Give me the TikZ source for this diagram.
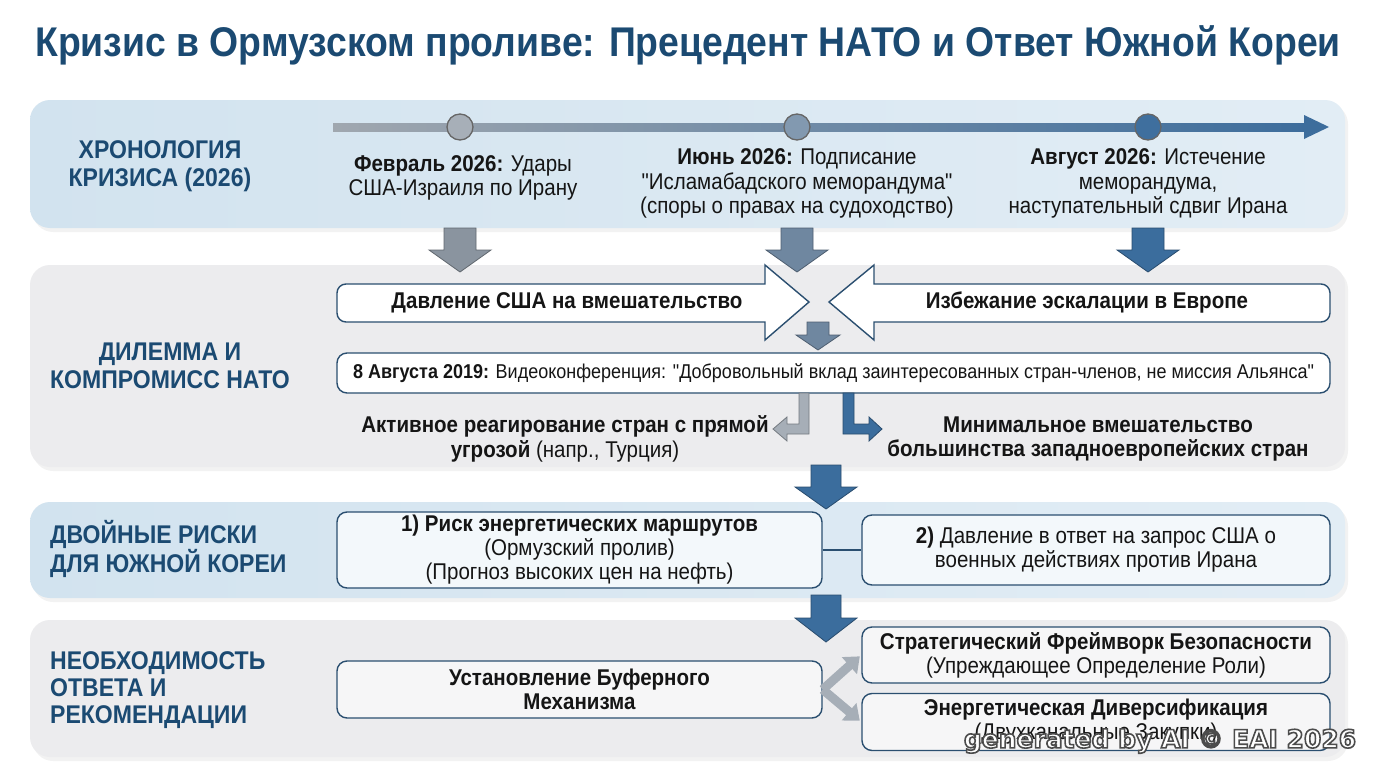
\documentclass[tikz,border=0pt]{standalone}
\usepackage{fontspec}
\setmainfont{Liberation Sans}[FakeStretch=0.9, Ligatures=TeXOff]
\newfontfamily\wmfont{DejaVu Sans}
\usetikzlibrary{arrows.meta}
\definecolor{titleblue}{HTML}{1B4A72}
\definecolor{bandblueL}{HTML}{D2E3EF}
\definecolor{bandblueR}{HTML}{E2EDF5}
\definecolor{bandgray}{HTML}{ECECEE}
\definecolor{boxline}{HTML}{2B4F70}
\definecolor{tlgray}{HTML}{A0A7AF}
\definecolor{tlblue}{HTML}{3D6D9C}
\definecolor{arrgray}{HTML}{8A949F}
\definecolor{arrmid}{HTML}{6F87A0}
\definecolor{arrblue}{HTML}{3B6D9D}
\definecolor{arrlight}{HTML}{A6AEB7}
\definecolor{dotA}{HTML}{A7AFB8}
\definecolor{dotB}{HTML}{8299B0}
\definecolor{dotC}{HTML}{3F6F9E}
\definecolor{txt}{HTML}{151515}
\newcommand{\bdown}[7]{%
  \draw[draw=#7!70!black, line width=0.8, fill=#7]
    (#1-#5,#2) -- (#1+#5,#2) -- (#1+#5,#3) -- (#1+#6,#3) -- (#1,#4)
    -- (#1-#6,#3) -- (#1-#5,#3) -- cycle;}
\tikzset{
  lbl/.style={font=\fontsize{25.6}{28}\selectfont\bfseries, text=titleblue, align=center, inner sep=0},
  evt/.style={font=\fontsize{22.8}{24.5}\selectfont, text=txt, align=center, inner sep=0},
  bt/.style={font=\fontsize{22.8}{24}\selectfont\bfseries, text=txt, align=center, inner sep=0},
  box/.style={draw=boxline, line width=1.4, rounded corners=10, fill=white, align=center, text=txt,
    font=\fontsize{22.8}{24}\selectfont, inner sep=0},
  dot/.style={circle, draw=black!60, line width=1.3, minimum size=26, inner sep=0},
  garrow/.style={draw=arrlight, line width=9, -{Triangle[width=22,length=14]}, shorten >=2, shorten <=0}
}
\begin{document}
\begin{tikzpicture}[x=1pt,y=-1pt]
\useasboundingbox (0,0) rectangle (1376,768);
\fill[white] (0,0) rectangle (1376,768);
% title
\node[font=\fontsize{41.5}{46}\selectfont\bfseries, text=titleblue, inner sep=0] (title) at (688,45)
  {Кризис в Ормузском проливе: Прецедент НАТО и Ответ Южной Кореи};
% bands
\foreach \a/\b in {100/228,265/467,502/598,620/757}{
  \fill[black, opacity=0.05, rounded corners=20] (33,\a+4) rectangle (1348,\b+4);}
\shade[left color=bandblueL, right color=bandblueR, rounded corners=20] (30,100) rectangle (1345,228);
\fill[bandgray, rounded corners=20] (30,265) rectangle (1345,467);
\shade[left color=bandblueL, right color=bandblueR, rounded corners=20] (30,502) rectangle (1345,598);
\fill[bandgray, rounded corners=20] (30,620) rectangle (1345,757);
% left labels
\node[lbl] (l1) at (160,166) {ХРОНОЛОГИЯ\\КРИЗИСА (2026)};
\node[lbl] (l2) at (170,366) {ДИЛЕММА И\\КОМПРОМИСС НАТО};
\node[lbl, align=left, anchor=west] (l3) at (50,549) {ДВОЙНЫЕ РИСКИ\\ДЛЯ ЮЖНОЙ КОРЕИ};
\node[lbl, align=left, anchor=west, font=\fontsize{25.6}{27}\selectfont\bfseries] (l4) at (50,690) {НЕОБХОДИМОСТЬ\\ОТВЕТА И\\РЕКОМЕНДАЦИИ};
% timeline
\coordinate (t0) at (333,127);
\shade[left color=tlgray, right color=tlblue] (333,123) rectangle (1306,131);
\fill[tlblue] (1304,115) -- (1329,127) -- (1304,139) -- cycle;
\node[dot, fill=dotA] (d1) at (460,127) {};
\node[dot, fill=dotB] (d2) at (797,127) {};
\node[dot, fill=dotC] (d3) at (1148,127) {};
\node[evt] (e1) at (463,178) {\textbf{Февраль 2026:} Удары\\США-Израиля по Ирану};
\node[evt] (e2) at (797,183.5) {\textbf{Июнь 2026:} Подписание\\"Исламабадского меморандума"\\(споры о правах на судоходство)};
\node[evt] (e3) at (1148,183.5) {\textbf{Август 2026:} Истечение\\меморандума,\\наступательный сдвиг Ирана};
% down arrows from timeline
\bdown{460}{228}{250}{272}{16}{31}{arrgray}
\bdown{797}{228}{250}{272}{16}{31}{arrmid}
\bdown{1148}{228}{250}{272}{16}{31}{arrblue}
% NATO converging arrows
\draw[draw=boxline, line width=1.4, fill=white]
  (765,340) -- (765,322) [rounded corners=9] -- (337,322) -- (337,284) [sharp corners] -- (765,284)
  -- (765,265) -- (809,302) -- cycle;
\draw[draw=boxline, line width=1.4, fill=white]
  (874,340) -- (874,322) [rounded corners=9] -- (1330,322) -- (1330,284) [sharp corners] -- (874,284)
  -- (874,265) -- (829,302) -- cycle;
\node[bt] (us) at (567,303) {Давление США на вмешательство};
\node[bt] (eu) at (1087,303) {Избежание эскалации в Европе};
\bdown{818}{322}{335}{350}{11}{22}{arrmid}
% memo
\node[box, minimum width=993, minimum height=40, font=\fontsize{20}{22}\selectfont] (memo) at (833.5,373)
  {\textbf{8 Августа 2019:} Видеоконференция: "Добровольный вклад заинтересованных стран-членов, не миссия Альянса"};
% bent arrows
\draw[draw=arrlight!70!black, line width=0.8, fill=arrlight]
  (799,393) -- (809,393) -- (809,434) -- (787,434) -- (787,441) -- (773,429) -- (787,417) -- (787,424) -- (799,424) -- cycle;
\draw[draw=arrblue!70!black, line width=0.8, fill=arrblue]
  (843,393) -- (854,393) -- (854,424) -- (869,424) -- (869,417) -- (882,429) -- (869,441) -- (869,434) -- (843,434) -- cycle;
\node[evt] (act) at (565,439) {\textbf{Активное реагирование стран с прямой}\\\textbf{угрозой} (напр., Турция)};
\node[bt] (min) at (1098,439) {Минимальное вмешательство\\большинства западноевропейских стран};
\bdown{826}{465}{487}{509}{15}{31}{arrblue}
% risks
\node[box, minimum width=485, minimum height=76, fill=white!60!bandblueR] (r1) at (579.5,550)
  {\textbf{1) Риск энергетических маршрутов}\\(Ормузский пролив)\\(Прогноз высоких цен на нефть)};
\node[box, minimum width=468, minimum height=70, fill=white!60!bandblueR] (r2) at (1096,550)
  {\textbf{2)} Давление в ответ на запрос США о\\военных действиях против Ирана};
\draw[boxline, line width=1.4] (r1.east) -- (r2.west);
\bdown{826}{595}{618}{642}{15}{31}{arrblue}
% recommendations
\node[box, minimum width=485, minimum height=57, fill=white!55!bandgray, font=\fontsize{22.8}{24}\selectfont\bfseries] (buf) at (579.5,689.5)
  {Установление Буферного\\Механизма};
\node[box, minimum width=468, minimum height=56, fill=white!55!bandgray] (sf) at (1096,655)
  {\textbf{Стратегический Фреймворк Безопасности}\\(Упреждающее Определение Роли)};
\node[box, minimum width=468, minimum height=57, fill=white!55!bandgray] (ed) at (1096,722)
  {\textbf{Энергетическая Диверсификация}\\(Двухканальные Закупки)};
\draw[garrow] (buf.east) -- (sf.west);
\draw[garrow] (buf.east) -- (ed.west);
% watermark (white text with dark outline via text render mode)
\node[font=\wmfont\fontsize{25}{28}\selectfont\bfseries, text=white, inner sep=0] (wm) at (1160,741)
  {\special{pdf:literal direct 2 Tr 0.3 G 1.6 w}generated by AI © EAI 2026\special{pdf:literal direct 0 Tr}};
\end{tikzpicture}
\end{document}
